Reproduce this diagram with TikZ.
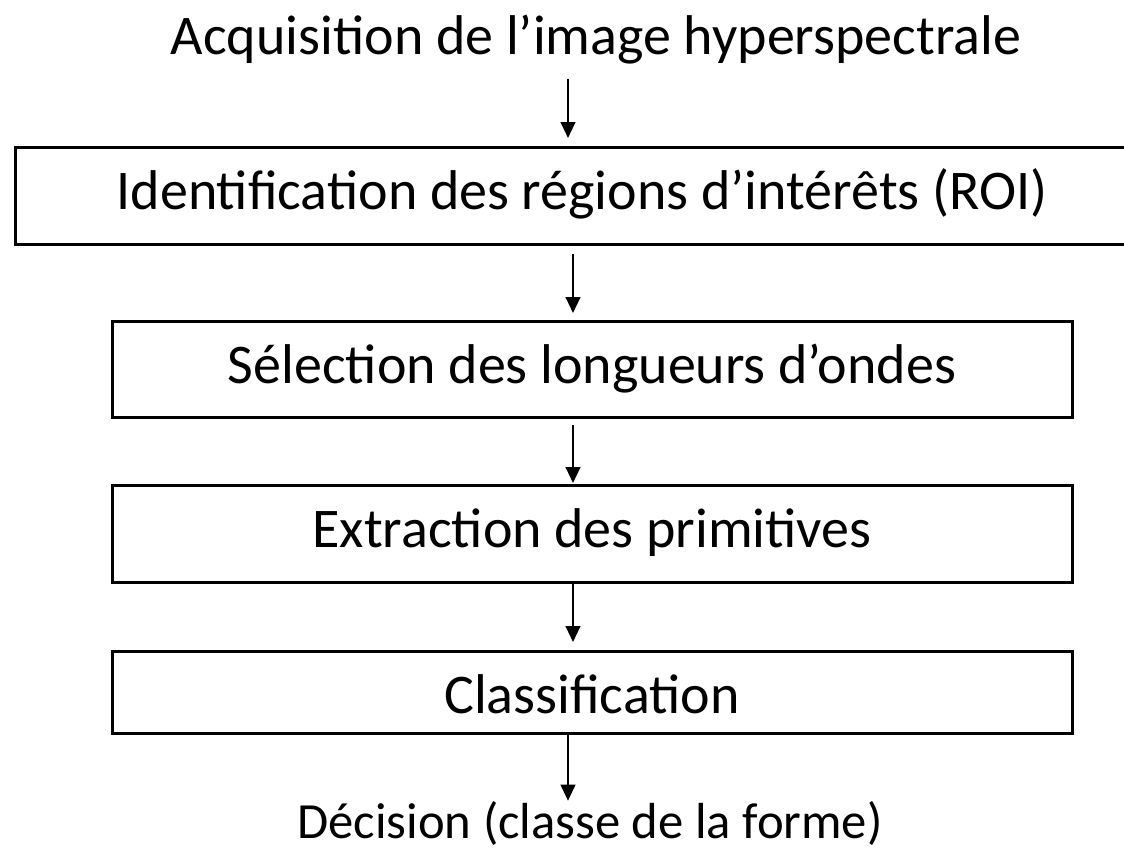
\documentclass[tikz,border=0pt]{standalone}
\usepackage{fontspec}
\setmainfont{Carlito}
\usetikzlibrary{arrows.meta,positioning}

\begin{document}
\begin{tikzpicture}
[
x=0.75pt, y=-0.75pt
, >={Triangle[width=11pt,length=12pt]}
, every node/.style={font=\fontsize{42}{50}\selectfont}
, box/.style={draw, line width=2.25pt, inner sep=0pt, outer sep=0pt, minimum height=72.75pt, text height=21pt, text depth=0pt}
, txt/.style={inner sep=0pt, outer sep=0pt, anchor=base, text height=28pt, text depth=0pt}
, flow/.style={->, line width=1.6pt}
]

\useasboundingbox (0,0) rectangle (1124,851);
\clip (0,0) rectangle (1124,851);

% input and output
\node[txt] (acq) at (596,54) {Acquisition de l’image hyperspectrale};
\node[txt, font=\fontsize{38}{46}\selectfont, text height=25pt] (dec) at (590,838) {Décision (classe de la forme)};

% processing steps
\node[box, minimum width=850.5pt] (roi) at (582,195.5) {Identification des régions d’intérêts (ROI)};
\node[box, minimum width=720pt, minimum height=72pt] (sel) at (592,369) {Sélection des longueurs d’ondes};
\node[box, minimum width=720pt] (ext) at (592,533.5) {Extraction des primitives};
\node[box, minimum width=720pt, minimum height=61.5pt, text height=31.5pt] (cls) at (592,692) {Classification};

% arrows
\coordinate (a1) at (568,0);
\coordinate (a2) at (573,0);
\coordinate (a3) at (568,0);
\draw[flow, shorten <=18.75pt, shorten >=6.75pt] (acq.south -| a1) -- (roi.north -| a1);
\draw[flow, shorten <=7.5pt, shorten >=6pt] (roi.south -| a2) -- (sel.north -| a2);
\draw[flow, shorten <=6pt, shorten >=1.5pt] (sel.south -| a2) -- (ext.north -| a2);
\draw[flow, shorten >=6.75pt] (ext.south -| a2) -- (cls.north -| a2);
\draw[flow, shorten >=3pt] (cls.south -| a3) -- (dec.north -| a3);

\end{tikzpicture}
\end{document}
